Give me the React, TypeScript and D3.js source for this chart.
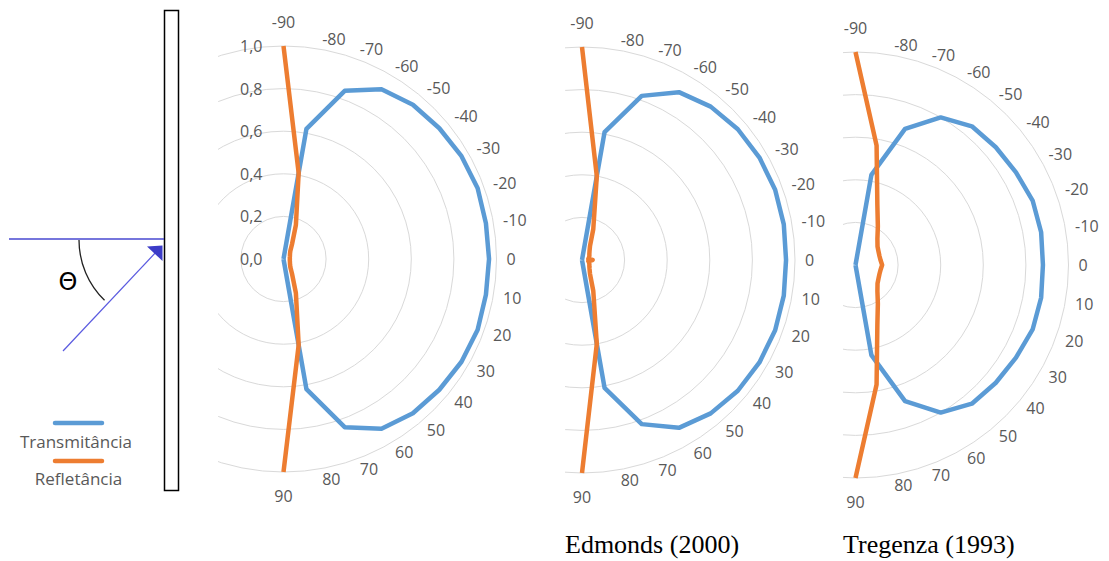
import React from "react";
import * as d3 from "d3";

// angles of incidence (degrees), -90 at the top, 0 to the right, 90 at the bottom
const angles = [-90, -80, -70, -60, -50, -40, -30, -20, -10, 0, 10, 20, 30, 40, 50, 60, 70, 80, 90];
const valueTicks = [0, 0.2, 0.4, 0.6, 0.8, 1.0];

// first panel (no title)
const transmA = [0, 0.62, 0.84, 0.92, 0.945, 0.955, 0.965, 0.97, 0.965, 0.965, 0.965, 0.97, 0.965, 0.955, 0.945, 0.92, 0.84, 0.62, 0];
const reflA = [1.0, 0.41, 0.17, 0.08, 0.05, 0.04, 0.035, 0.032, 0.03, 0.03, 0.03, 0.032, 0.035, 0.04, 0.05, 0.08, 0.17, 0.41, 1.0];

// Edmonds (2000)
const transmB = [0, 0.61, 0.82, 0.91, 0.94, 0.955, 0.962, 0.965, 0.962, 0.958, 0.962, 0.965, 0.962, 0.955, 0.94, 0.91, 0.82, 0.61, 0];
const reflB = [1.0, 0.4, 0.155, 0.075, 0.055, 0.045, 0.04, 0.035, 0.03, 0.05, 0.03, 0.035, 0.04, 0.045, 0.055, 0.075, 0.155, 0.4, 1.0];

// Tregenza (1993)
const transmC = [0, 0.43, 0.68, 0.8, 0.85, 0.86, 0.87, 0.885, 0.885, 0.88, 0.885, 0.885, 0.87, 0.86, 0.85, 0.8, 0.68, 0.43, 0];
const reflC = [1.0, 0.57, 0.3, 0.21, 0.16, 0.135, 0.125, 0.12, 0.12, 0.125, 0.12, 0.12, 0.125, 0.135, 0.16, 0.21, 0.3, 0.57, 1.0];

const seriesNames = ["Transmitância", "Refletância"];
const titles = ["", "Edmonds (2000)", "Tregenza (1993)"];

const BLUE = "#5b9bd5";
const ORANGE = "#ed7d31";
const GRID = "#d9d9d9";
const LABEL = "#595959";
const R = 213;

const panels = [
  { cx: 283.5, cy: 259, clipLeft: 218, showValues: true, transm: transmA, refl: reflA, title: titles[0] },
  { cx: 582, cy: 260, clipLeft: 565, showValues: false, transm: transmB, refl: reflB, title: titles[1] },
  { cx: 855.5, cy: 265, clipLeft: 843, showValues: false, transm: transmC, refl: reflC, title: titles[2] },
];

const aScale = d3.scaleLinear().domain([-90, 90]).range([0, Math.PI]);
const rScale = d3.scaleLinear().domain([0, 1]).range([0, R]);

const radial = d3
  .lineRadial<number>()
  .angle((d, i) => aScale(angles[i]))
  .radius((d) => rScale(d));

const fmt = (v: number) => v.toFixed(1).replace(".", ",");

const Panel = ({ p, idx }: { p: (typeof panels)[number]; idx: number }) => {
  const clipId = `clip-${idx}`;
  return (
    <g transform={`translate(${p.cx},${p.cy})`}>
      <defs>
        <clipPath id={clipId}>
          <rect x={p.clipLeft - p.cx} y={-R - 5} width={R * 2} height={R * 2 + 10} />
        </clipPath>
      </defs>
      <g clipPath={`url(#${clipId})`}>
        {valueTicks
          .filter((t) => t > 0)
          .map((t) => (
            <circle key={t} r={rScale(t)} fill="none" stroke={GRID} strokeWidth={1} />
          ))}
      </g>
      {p.showValues &&
        valueTicks.map((t) => (
          <text
            key={t}
            x={-21}
            y={-rScale(t)}
            textAnchor="end"
            dominantBaseline="central"
            fontSize={16}
            fill={LABEL}
          >
            {fmt(t)}
          </text>
        ))}
      {angles.map((a) => {
        const th = aScale(a);
        if (Math.abs(a) === 90) {
          return (
            <text
              key={a}
              x={0}
              y={-(R + 24) * Math.cos(th)}
              textAnchor="middle"
              dominantBaseline="central"
              fontSize={16}
              fill={LABEL}
            >
              {a}
            </text>
          );
        }
        return (
          <text
            key={a}
            x={(R + 10) * Math.sin(th)}
            y={-(R + 10) * Math.cos(th)}
            textAnchor="start"
            dominantBaseline="central"
            fontSize={16}
            fill={LABEL}
          >
            {a}
          </text>
        );
      })}
      <path d={radial(p.transm) ?? ""} fill="none" stroke={BLUE} strokeWidth={4.5} strokeLinejoin="round" />
      <path d={radial(p.refl) ?? ""} fill="none" stroke={ORANGE} strokeWidth={4.5} strokeLinejoin="round" />
      {p.title && (
        <text
          x={p.clipLeft - p.cx}
          y={553 - p.cy}
          fontFamily="'Liberation Serif', 'Times New Roman', serif"
          fontSize={26}
          fill="#000"
        >
          {p.title}
        </text>
      )}
    </g>
  );
};

const Diagram = () => {
  const arc = d3.path();
  arc.arc(163, 240, 84, Math.PI, Math.PI * 0.745, true);
  return (
    <g>
      <rect x={164.5} y={10.5} width={14} height={480} fill="#fff" stroke="#000" strokeWidth={1.5} />
      <line x1={9} y1={239} x2={164} y2={239} stroke="#4848d0" strokeWidth={1.5} />
      <line x1={63} y1={351} x2={158} y2={250} stroke="#5a5ae0" strokeWidth={1.2} />
      <polygon points="147,246.5 162.5,245.5 162.5,261" fill="#3c3cc8" />
      <path d={arc.toString()} fill="none" stroke="#222" strokeWidth={1.3} />
      <text
        x={68}
        y={282}
        textAnchor="middle"
        dominantBaseline="central"
        fontFamily="'DejaVu Sans', sans-serif"
        fontSize={24}
        fill="#000"
      >
        Θ
      </text>
      {/* legend */}
      <line x1={55} y1={423} x2={102} y2={423} stroke={BLUE} strokeWidth={4.5} strokeLinecap="round" />
      <text x={76} y={441} textAnchor="middle" dominantBaseline="central" fontSize={17} fill={LABEL}>
        {seriesNames[0]}
      </text>
      <line x1={55} y1={461} x2={102} y2={461} stroke={ORANGE} strokeWidth={4.5} strokeLinecap="round" />
      <text x={78.5} y={478.5} textAnchor="middle" dominantBaseline="central" fontSize={17} fill={LABEL}>
        {seriesNames[1]}
      </text>
    </g>
  );
};

export default function App() {
  return (
    <svg
      width={1109}
      height={561}
      style={{ position: "absolute", left: 0, top: 0, background: "#fff" }}
      fontFamily="'Open Sans', 'Noto Sans', sans-serif"
    >
      <Diagram />
      {panels.map((p, i) => (
        <Panel key={i} p={p} idx={i} />
      ))}
    </svg>
  );
}
